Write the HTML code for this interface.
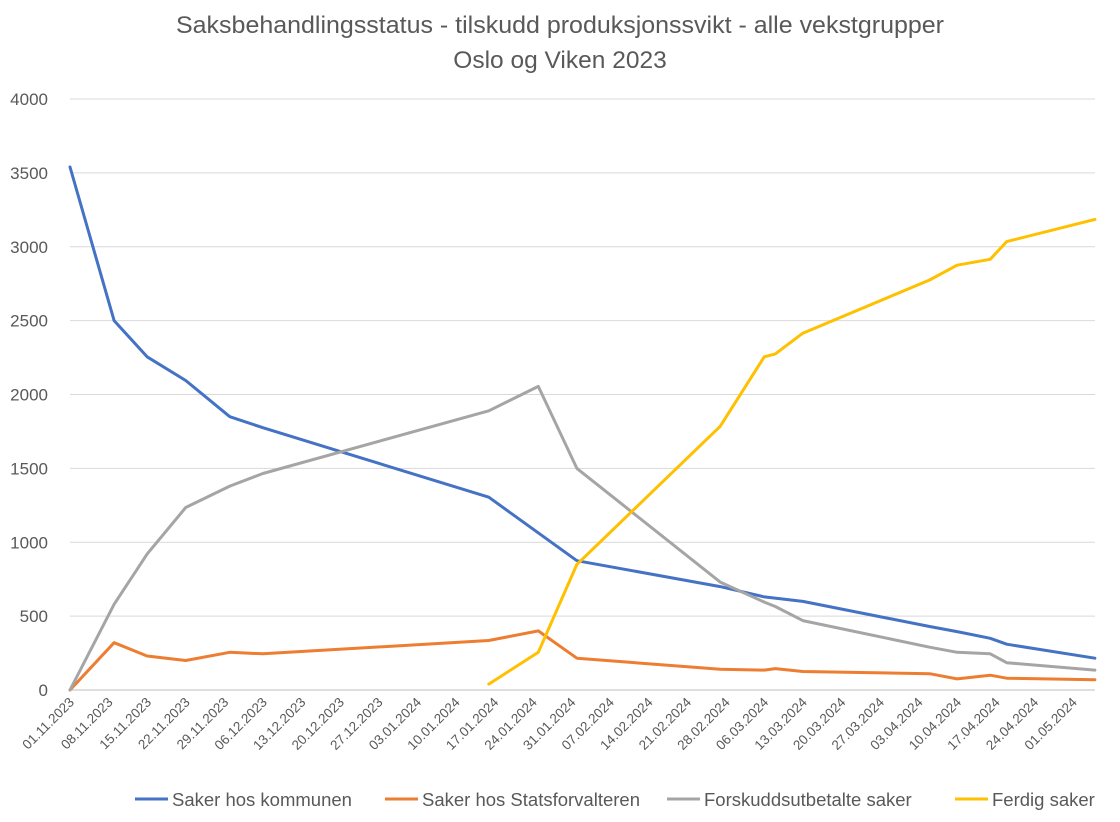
<!DOCTYPE html>
<html><head><meta charset="utf-8"><style>
body{margin:0;background:#fff;font-family:"Liberation Sans",sans-serif}
svg text{font-family:"Liberation Sans",sans-serif}
</style></head><body>
<svg id="chart" width="1120" height="817">
<text x="560" y="33" text-anchor="middle" font-size="24.5" fill="#595959" textLength="768" lengthAdjust="spacingAndGlyphs">Saksbehandlingsstatus - tilskudd produksjonssvikt - alle vekstgrupper</text>
<text x="560" y="68" text-anchor="middle" font-size="24.5" fill="#595959">Oslo og Viken 2023</text>
<g id="grid"></g><g id="xt"></g><g id="lines"></g><g id="legend"></g>
</svg>
<script>
const yTicks=[0,500,1000,1500,2000,2500,3000,3500,4000];
const xTickLabels=["01.11.2023","08.11.2023","15.11.2023","22.11.2023","29.11.2023","06.12.2023","13.12.2023","20.12.2023","27.12.2023","03.01.2024","10.01.2024","17.01.2024","24.01.2024","31.01.2024","07.02.2024","14.02.2024","21.02.2024","28.02.2024","06.03.2024","13.03.2024","20.03.2024","27.03.2024","03.04.2024","10.04.2024","17.04.2024","24.04.2024","01.05.2024"];
const days=[0,8,14,21,29,35,49,76,85,92,118,126,128,133,156,161,167,170,186];
const kommunen=[3540,2500,2255,2095,1850,1775,1615,1305,null,875,700,630,null,600,430,395,350,310,215];
const statsforv=[0,320,230,200,255,245,null,335,400,215,140,135,145,125,110,75,100,80,70];
const forskudd=[0,580,920,1235,1380,1465,null,1890,2055,1500,730,595,565,470,290,255,245,185,135];
const ferdig=[null,null,null,null,null,null,null,40,255,850,1785,2255,2275,2415,2775,2875,2915,3035,3185];
const seriesNames=["Saker hos kommunen","Saker hos Statsforvalteren","Forskuddsutbetalte saker","Ferdig saker"];
const colors=["#4472C4","#ED7D31","#A5A5A5","#FFC000"];
const NS="http://www.w3.org/2000/svg";
const X0=70,PXD=5.51,Y0=690,PXV=591/4000,XR=1095;
const xs=d=>X0+d*PXD, ys=v=>Y0-v*PXV;
function mk(t,a,p){const e=document.createElementNS(NS,t);for(const k in a)e.setAttribute(k,a[k]);p.appendChild(e);return e;}
const grid=document.getElementById('grid');
yTicks.forEach(v=>{
 const l=mk('line',{x1:X0,x2:XR,y1:ys(v),y2:ys(v),stroke:v===0?'#BFBFBF':'#D9D9D9','stroke-width':1},grid);
 
 
 const t=mk('text',{x:48,y:ys(v)+6,'text-anchor':'end','font-size':17,fill:'#595959'},grid);t.textContent=v;
 
 
});
const xt=document.getElementById('xt');
xTickLabels.forEach((s,i)=>{
 const x=xs(i*7);
 const t=mk('text',{x:x+5,y:703,'text-anchor':'end','font-size':13.5,fill:'#595959',transform:`rotate(-45 ${x+5} 703)`},xt);t.textContent=s;
 
 
});
const lines=document.getElementById('lines');
[kommunen,statsforv,forskudd,ferdig].forEach((arr,si)=>{
 let pts=[];arr.forEach((v,i)=>{if(v!==null)pts.push(xs(days[i]).toFixed(1)+','+ys(v).toFixed(1));});
 const p=mk('polyline',{points:pts.join(' '),fill:'none',stroke:colors[si],'stroke-width':3,'stroke-linejoin':'round','stroke-linecap':'round'},lines);
 
 
});
const lg=document.getElementById('legend');
const lx=[135,385,667,955];
seriesNames.forEach((n,i)=>{
 const g=mk('g',{},lg);
 
 
 mk('line',{x1:lx[i],x2:lx[i]+33,y1:799,y2:799,stroke:colors[i],'stroke-width':3},g);
 const t=mk('text',{x:lx[i]+37,y:806,'font-size':18.5,fill:'#595959'},g);t.textContent=n;
});
</script>
</body></html>
